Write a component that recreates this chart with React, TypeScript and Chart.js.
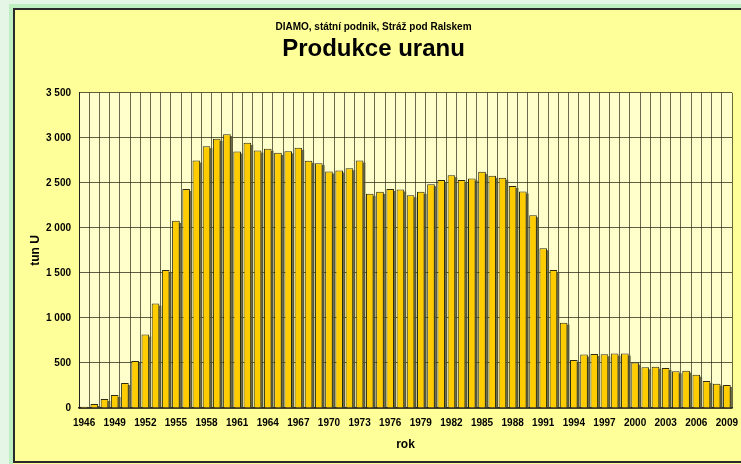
import React, { useEffect, useRef } from "react";
import { Chart, registerables } from "chart.js";

Chart.register(...registerables);

const years: string[] = [
  "1946", "1947", "1948", "1949", "1950", "1951", "1952", "1953", "1954", "1955",
  "1956", "1957", "1958", "1959", "1960", "1961", "1962", "1963", "1964", "1965",
  "1966", "1967", "1968", "1969", "1970", "1971", "1972", "1973", "1974", "1975",
  "1976", "1977", "1978", "1979", "1980", "1981", "1982", "1983", "1984", "1985",
  "1986", "1987", "1988", "1989", "1990", "1991", "1992", "1993", "1994", "1995",
  "1996", "1997", "1998", "1999", "2000", "2001", "2002", "2003", "2004", "2005",
  "2006", "2007", "2008", "2009",
];

const uranium: number[] = [
  15, 45, 100, 144, 278, 522, 815, 1159, 1533, 2078,
  2433, 2748, 2907, 2989, 3041, 2848, 2944, 2859, 2878, 2833,
  2850, 2889, 2745, 2719, 2626, 2637, 2663, 2748, 2378, 2400,
  2433, 2426, 2363, 2400, 2485, 2533, 2585, 2533, 2548, 2622,
  2578, 2557, 2465, 2404, 2141, 1774, 1533, 948, 533, 593,
  600, 596, 604, 604, 504, 452, 459, 444, 407, 415,
  370, 300, 270, 256,
];

const subtitleText = "DIAMO, státní podnik, Stráž pod Ralskem";
const titleText = "Produkce uranu";
const yAxisTitle = "tun U";
const xAxisTitle = "rok";

const FONT = "'Liberation Sans', Arial, sans-serif";

const bgPlugin = {
  id: "bgPlugin",
  beforeDraw(chart: any) {
    const { ctx, chartArea } = chart;
    ctx.save();
    ctx.fillStyle = "#FFFF99";
    ctx.fillRect(0, 0, chart.width, chart.height);
    ctx.fillStyle = "#FFFFCC";
    ctx.fillRect(chartArea.left, chartArea.top, chartArea.right - chartArea.left, chartArea.bottom - chartArea.top);
    ctx.restore();
  },
  beforeDatasetsDraw(chart: any) {
    const { ctx, chartArea } = chart;
    const meta = chart.getDatasetMeta(0);
    ctx.save();
    ctx.beginPath();
    ctx.rect(chartArea.left, chartArea.top, chartArea.right - chartArea.left, chartArea.bottom - chartArea.top);
    ctx.clip();
    ctx.fillStyle = "rgba(85,85,55,0.85)";
    meta.data.forEach((bar: any) => {
      const p = bar.getProps(["x", "y", "base", "width"], true);
      ctx.fillRect(p.x - p.width / 2 + 2, p.y + 2, p.width, p.base - p.y - 2);
    });
    ctx.restore();
  },
};

function fmt(v: number): string {
  return String(v).replace(/\B(?=(\d{3})+(?!\d))/g, " ");
}

export default function App() {
  const ref = useRef<HTMLCanvasElement | null>(null);

  useEffect(() => {
    if (!ref.current) return;
    const chart = new Chart(ref.current, {
      type: "bar",
      data: {
        labels: years,
        datasets: [
          {
            data: uranium,
            backgroundColor: "#FFCC00",
            borderColor: "#2b2b10",
            borderWidth: 1,
            barPercentage: 0.75,
            categoryPercentage: 1,
          },
        ],
      },
      options: {
        animation: false,
        responsive: false,
        maintainAspectRatio: false,
        layout: { padding: { top: 0, left: 0, right: 18, bottom: 0 } },
        plugins: {
          legend: { display: false },
          tooltip: { enabled: false },
          title: {
            display: true,
            text: subtitleText,
            color: "#000",
            font: { family: FONT, size: 10, weight: "bold" },
            padding: { top: 11, bottom: 0 },
          },
          subtitle: {
            display: true,
            text: titleText,
            color: "#000",
            font: { family: FONT, size: 24, weight: "bold" },
            padding: { top: 2, bottom: 29 },
          },
        },
        scales: {
          x: {
            grid: {
              display: true,
              offset: true,
              color: "rgba(40,40,20,0.7)",
              lineWidth: 1,
              drawTicks: false,
            },
            border: { display: true, color: "#222", width: 1.5 },
            ticks: {
              autoSkip: false,
              maxRotation: 0,
              minRotation: 0,
              padding: 9,
              color: "#000",
              font: { family: FONT, size: 10, weight: "bold" },
              callback: (_v: any, idx: number) => (idx % 3 === 0 ? years[idx] : ""),
            },
            title: {
              display: true,
              text: xAxisTitle,
              color: "#000",
              font: { family: FONT, size: 12, weight: "bold" },
              padding: { top: 0, bottom: 9 },
            },
            afterFit: (scale: any) => {
              scale.height = 53;
            },
          },
          y: {
            min: 0,
            max: 3500,
            grid: {
              color: "rgba(40,40,20,0.75)",
              lineWidth: 1,
              drawTicks: false,
            },
            border: { display: true, color: "#222", width: 1 },
            ticks: {
              stepSize: 500,
              padding: 8,
              color: "#000",
              font: { family: FONT, size: 10, weight: "bold" },
              callback: (v: any) => fmt(Number(v)),
            },
            title: {
              display: true,
              text: yAxisTitle,
              color: "#000",
              font: { family: FONT, size: 12, weight: "bold" },
              padding: { top: 13, bottom: 0 },
            },
            afterFit: (scale: any) => {
              scale.width = 64;
            },
          },
        },
      },
      plugins: [bgPlugin],
    });
    return () => chart.destroy();
  }, []);

  return (
    <div
      style={{
        position: "fixed",
        left: 0,
        top: 0,
        width: 800,
        height: 464,
        overflow: "hidden",
        background: "#FFFF99",
      }}
    >
      <div style={{ position: "absolute", left: 0, top: 0, width: 9, height: 464, background: "#E6F6E6" }} />
      <div style={{ position: "absolute", left: 9, top: 0, width: 4, height: 464, background: "#BDEFC0" }} />
      <div style={{ position: "absolute", left: 9, top: 0, width: 800, height: 4, background: "#E6F6E6" }} />
      <div style={{ position: "absolute", left: 9, top: 4, width: 800, height: 4, background: "#BDEFC0" }} />
      <div
        style={{
          position: "absolute",
          left: 13,
          top: 8,
          width: 790,
          height: 455,
          boxSizing: "border-box",
          borderTop: "2px solid #2a2a2a",
          borderLeft: "2px solid #2a2a2a",
          borderBottom: "2px solid #2a2a2a",
          background: "#FFFF99",
          overflow: "hidden",
        }}
      >
        <canvas ref={ref} width={735} height={451} style={{ display: "block", width: 735, height: 451 }} />
      </div>
    </div>
  );
}
